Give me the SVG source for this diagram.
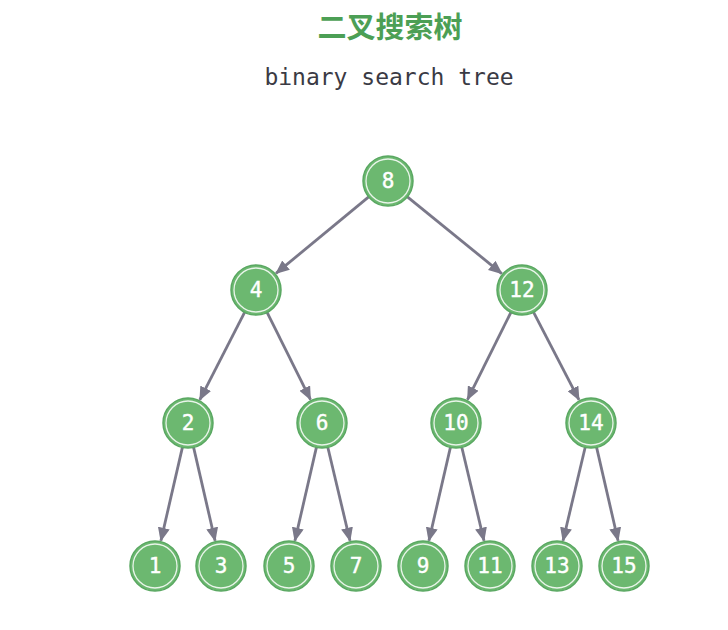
<svg xmlns="http://www.w3.org/2000/svg" width="728" height="630" viewBox="0 0 728 630">
<style>
.bg{fill:#ffffff}
.title{font-family:"Noto Sans CJK SC","Noto Sans",sans-serif;font-weight:bold;font-size:29px;fill:#4c9f55}
.sub{font-family:"DejaVu Sans Mono","Liberation Mono",monospace;font-size:23px;fill:#3a3a44}
.node circle.o{fill:#6cb870;stroke:#5aa862;stroke-width:1.5}
.node circle.i{fill:none;stroke:#ffffff;stroke-width:1.3;opacity:0.85}
.node text{font-family:"DejaVu Sans Mono","Liberation Mono",monospace;font-size:21px;fill:#ffffff;stroke:#ffffff;stroke-width:0.4;text-anchor:middle;dominant-baseline:central}
.edges line{stroke:#7a7889;stroke-width:2.8;marker-end:url(#arr)}
</style>
<defs>
<marker id="arr" markerUnits="userSpaceOnUse" markerWidth="14" markerHeight="12" refX="13" refY="6" orient="auto">
<path d="M0,0 L14,6 L0,12 Z" fill="#7a7889"/>
</marker>
</defs>
<rect class="bg" x="0" y="0" width="728" height="630"/>
<text class="title" x="390" y="38" text-anchor="middle">二叉搜索树</text>
<text class="sub" x="389" y="85" text-anchor="middle">binary search tree</text>
<g class="edges">
<line x1="368.7" y1="196.9" x2="276.0" y2="273.4"/>
<line x1="407.4" y1="196.8" x2="501.8" y2="273.6"/>
<line x1="244.6" y1="312.3" x2="199.8" y2="399.9"/>
<line x1="267.1" y1="312.4" x2="310.5" y2="399.7"/>
<line x1="510.9" y1="312.4" x2="467.5" y2="399.7"/>
<line x1="533.5" y1="312.2" x2="579.0" y2="399.9"/>
<line x1="182.4" y1="447.4" x2="160.9" y2="540.7"/>
<line x1="193.6" y1="447.4" x2="215.1" y2="540.7"/>
<line x1="316.4" y1="447.4" x2="294.9" y2="540.7"/>
<line x1="327.8" y1="447.3" x2="350.0" y2="540.7"/>
<line x1="450.4" y1="447.4" x2="428.9" y2="540.7"/>
<line x1="461.8" y1="447.3" x2="484.0" y2="540.7"/>
<line x1="585.2" y1="447.3" x2="563.0" y2="540.7"/>
<line x1="596.6" y1="447.4" x2="618.1" y2="540.7"/>
</g>
<g id="n8" class="node" transform="translate(388,181)"><circle class="o" r="25"/><circle class="i" r="22"/><text>8</text></g>
<g id="n4" class="node" transform="translate(256,290)"><circle class="o" r="25"/><circle class="i" r="22"/><text>4</text></g>
<g id="n12" class="node" transform="translate(522,290)"><circle class="o" r="25"/><circle class="i" r="22"/><text>12</text></g>
<g id="n2" class="node" transform="translate(188,423)"><circle class="o" r="25"/><circle class="i" r="22"/><text>2</text></g>
<g id="n6" class="node" transform="translate(322,423)"><circle class="o" r="25"/><circle class="i" r="22"/><text>6</text></g>
<g id="n10" class="node" transform="translate(456,423)"><circle class="o" r="25"/><circle class="i" r="22"/><text>10</text></g>
<g id="n14" class="node" transform="translate(591,423)"><circle class="o" r="25"/><circle class="i" r="22"/><text>14</text></g>
<g id="n1" class="node" transform="translate(155,566)"><circle class="o" r="25"/><circle class="i" r="22"/><text>1</text></g>
<g id="n3" class="node" transform="translate(221,566)"><circle class="o" r="25"/><circle class="i" r="22"/><text>3</text></g>
<g id="n5" class="node" transform="translate(289,566)"><circle class="o" r="25"/><circle class="i" r="22"/><text>5</text></g>
<g id="n7" class="node" transform="translate(356,566)"><circle class="o" r="25"/><circle class="i" r="22"/><text>7</text></g>
<g id="n9" class="node" transform="translate(423,566)"><circle class="o" r="25"/><circle class="i" r="22"/><text>9</text></g>
<g id="n11" class="node" transform="translate(490,566)"><circle class="o" r="25"/><circle class="i" r="22"/><text>11</text></g>
<g id="n13" class="node" transform="translate(557,566)"><circle class="o" r="25"/><circle class="i" r="22"/><text>13</text></g>
<g id="n15" class="node" transform="translate(624,566)"><circle class="o" r="25"/><circle class="i" r="22"/><text>15</text></g>
</svg>
